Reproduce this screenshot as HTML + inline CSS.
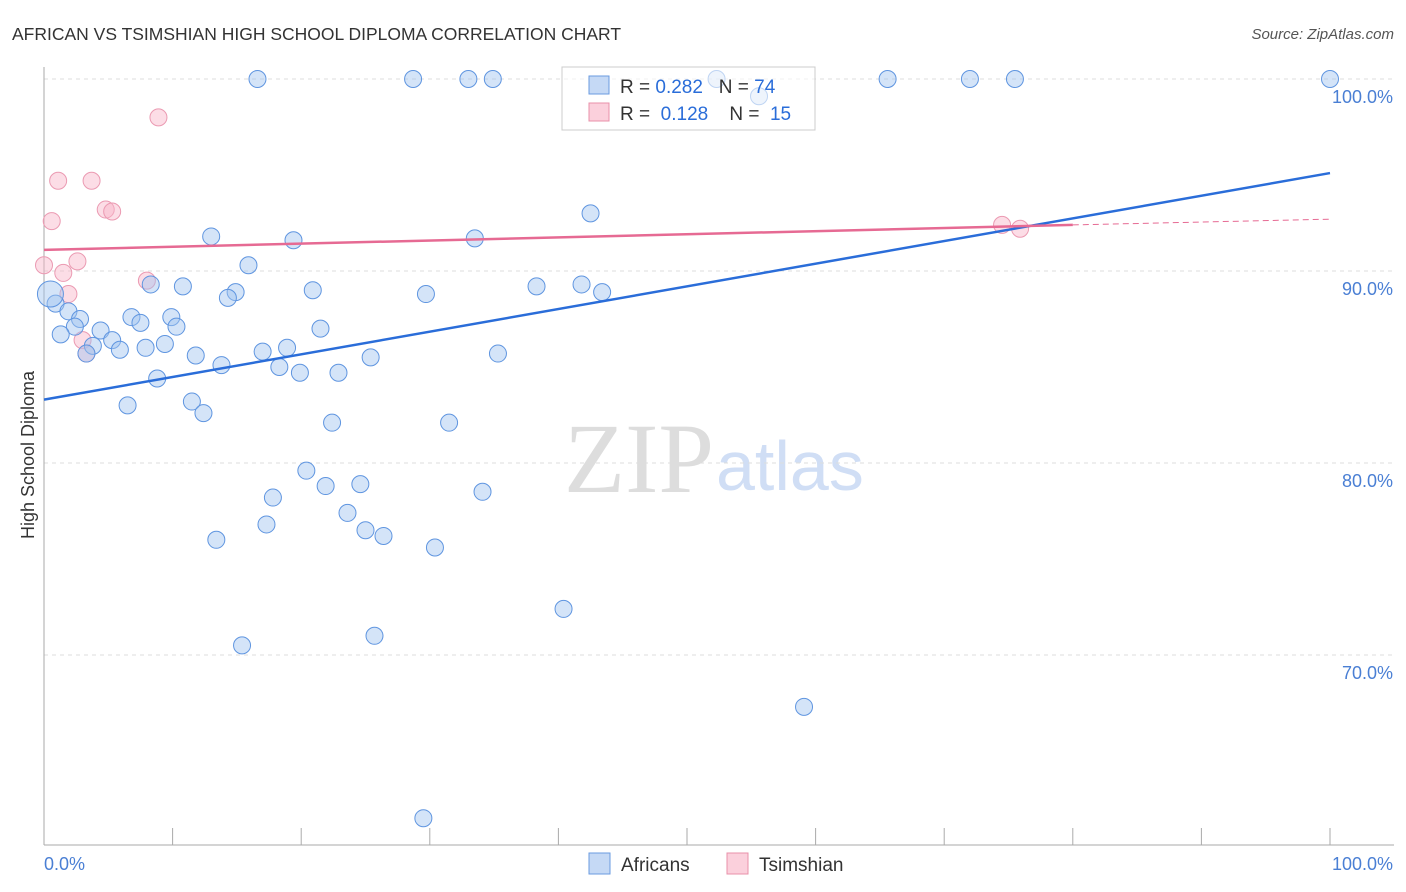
<!DOCTYPE html>
<html><head><meta charset="utf-8"><style>
body{margin:0;background:#fff;font-family:"Liberation Sans",sans-serif}
svg{display:block}
</style></head><body>
<svg id="c" width="1406" height="892">
<text x="12" y="40" font-size="17.5" fill="#333">AFRICAN VS TSIMSHIAN HIGH SCHOOL DIPLOMA CORRELATION CHART</text>
<text x="1394" y="39" font-size="15" fill="#555" font-style="italic" text-anchor="end">Source: ZipAtlas.com</text>
<text x="34" y="455" font-size="18" fill="#333" text-anchor="middle" transform="rotate(-90 34 455)">High School Diploma</text>
<text x="714" y="492" font-size="100" fill="#ddd" text-anchor="end" font-family="Liberation Serif">ZIP</text>
<text x="716" y="490" font-size="70" fill="#d0def5">atlas</text>
<g id="grid"></g><g id="marks"></g>
<g>
<rect x="562" y="67" width="253" height="63" fill="rgba(255,255,255,0.6)" stroke="#ccc"/>
<rect x="589" y="76" width="20" height="18" fill="#c5d9f5" stroke="#6a9be0"/>
<text x="620" y="93" font-size="19" fill="#333" xml:space="preserve">R = <tspan fill="#2a6dd9">0.282</tspan>   N = <tspan fill="#2a6dd9">74</tspan></text>
<rect x="589" y="103" width="20" height="18" fill="#fbd0dc" stroke="#e890aa"/>
<text x="620" y="120" font-size="19" fill="#333" xml:space="preserve">R =  <tspan fill="#2a6dd9">0.128</tspan>    N =  <tspan fill="#2a6dd9">15</tspan></text>
</g>
<g>
<rect x="589" y="853" width="21" height="21" fill="#c5d9f5" stroke="#6a9be0"/>
<text x="621" y="871" font-size="19" fill="#333">Africans</text>
<rect x="727" y="853" width="21" height="21" fill="#fbd0dc" stroke="#e890aa"/>
<text x="759" y="871" font-size="19" fill="#333">Tsimshian</text>
</g>
</svg>
<script>
const yTicks=[100,90,80,70];
const xTickLabels=["0.0%","100.0%"];
const afrX=[16.6,28.7,33,34.9,52.3,65.6,72,75.5,100,55.6,42.5,13,19.4,33.5,15.9,8.3,10.8,14.9,14.3,20.9,29.7,38.3,41.8,43.4,0.9,1.9,2.8,2.4,4.4,6.8,7.5,9.9,10.3,21.5,1.3,5.3,3.8,5.9,7.9,9.4,3.3,11.8,13.8,17,18.9,18.3,19.9,22.9,25.4,35.3,8.8,6.5,11.5,12.4,22.4,31.5,20.4,17.8,21.9,24.6,34.1,23.6,17.3,25,26.4,13.4,30.4,40.4,25.7,15.4,59.1,29.5,0.5];
const afrY=[100,100,100,100,100,100,100,100,100,99.1,93,91.8,91.6,91.7,90.3,89.3,89.2,88.9,88.6,89,88.8,89.2,89.3,88.9,88.3,87.9,87.5,87.1,86.9,87.6,87.3,87.6,87.1,87,86.7,86.4,86.1,85.9,86,86.2,85.7,85.6,85.1,85.8,86,85,84.7,84.7,85.5,85.7,84.4,83,83.2,82.6,82.1,82.1,79.6,78.2,78.8,78.9,78.5,77.4,76.8,76.5,76.2,76,75.6,72.4,71,70.5,67.3,61.5,88.8];
const tsiX=[8.9,1.1,3.7,0.6,4.8,5.3,2.6,1.5,8,1.9,3,3.3,74.5,75.9,0];
const tsiY=[98,94.7,94.7,92.6,93.2,93.1,90.5,89.9,89.5,88.8,86.4,85.7,92.4,92.2,90.3];
const X=v=>44+v*12.86, Y=v=>79+(100-v)*19.2;
const NS="http://www.w3.org/2000/svg";
const svg=document.getElementById('c'),grid=document.getElementById('grid'),marks=document.getElementById('marks');
function mk(tag,attrs,parent){const e=document.createElementNS(NS,tag);for(const k in attrs)e.setAttribute(k,attrs[k]);parent.appendChild(e);return e;}
yTicks.forEach(t=>{
 const l=mk('line',{x1:44,x2:1394,y1:Y(t),y2:Y(t),stroke:'#ddd','stroke-dasharray':'4 4'},grid);
 
 
 const tx=mk('text',{x:1393,y:Y(t)+24,'font-size':18,fill:'#4a7fd4','text-anchor':'end'},grid);
 tx.textContent=t.toFixed(1)+'%';
 
 
});
let ax=mk('line',{x1:44,x2:44,y1:67,y2:845,stroke:'#aaa'},grid);


ax=mk('line',{x1:44,x2:1394,y1:845,y2:845,stroke:'#aaa'},grid);


for(let i=0;i<=10;i++){const t=mk('line',{x1:X(i*10),x2:X(i*10),y1:828,y2:845,stroke:'#aaa'},grid);
 
 }
xTickLabels.forEach((s,i)=>{const t=mk('text',{x:i?1393:44,y:870,'font-size':18,fill:'#4a7fd4','text-anchor':i?'end':'start'},grid);t.textContent=s;
 
 });
tsiX.forEach((x,i)=>{const c=mk('circle',{cx:X(x),cy:Y(tsiY[i]),r:8.5,fill:'rgba(248,180,200,0.45)',stroke:'#eb9ab2','stroke-width':1},marks);
 
 });
afrX.forEach((x,i)=>{const c=mk('circle',{cx:X(x),cy:Y(afrY[i]),r:i==72?13:8.5,fill:'rgba(160,195,240,0.45)',stroke:'#5f95e0','stroke-width':1},marks);
 
 });
let tl=mk('line',{x1:X(0),y1:Y(83.3),x2:X(100),y2:Y(95.1),stroke:'#2a6dd9','stroke-width':2.5},marks);


tl=mk('line',{x1:X(0),y1:Y(91.1),x2:X(80),y2:Y(92.4),stroke:'#e66a93','stroke-width':2.5},marks);


tl=mk('line',{x1:X(80),y1:Y(92.4),x2:X(100),y2:Y(92.7),stroke:'#e66a93','stroke-width':1,'stroke-dasharray':'6 4'},marks);


</script>
</body></html>
